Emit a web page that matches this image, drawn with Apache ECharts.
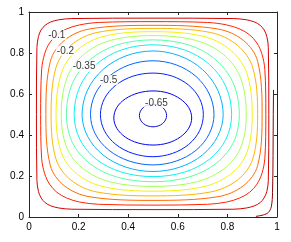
<!DOCTYPE html>
<html><head><meta charset="utf-8">
<script src="https://cdn.jsdelivr.net/npm/echarts@6/dist/echarts.min.js"></script>
<style>html,body{margin:0;padding:0;background:#fff}#c{width:291px;height:242px}</style>
</head><body><div id="c"></div>
<script>
// contour levels (outermost to innermost) plus the zero line near the right wall
const levels = [-0.05,-0.1,-0.15,-0.2,-0.25,-0.3,-0.35,-0.4,-0.45,-0.5,-0.55,-0.6,-0.65];
const c005 = [[0.967,0.5],[0.965,0.827],[0.959,0.880],[0.948,0.913],[0.932,0.935],[0.910,0.951],[0.877,0.962],[0.825,0.968],[0.5,0.97],[0.173,0.968],[0.120,0.962],[0.087,0.951],[0.065,0.935],[0.049,0.913],[0.038,0.880],[0.032,0.827],[0.030,0.5],[0.032,0.178],[0.038,0.125],[0.049,0.093],[0.065,0.070],[0.087,0.055],[0.120,0.044],[0.173,0.038],[0.5,0.036],[0.825,0.038],[0.877,0.044],[0.910,0.055],[0.932,0.070],[0.948,0.093],[0.959,0.125],[0.965,0.178]];
const c010 = [[0.955,0.5],[0.951,0.719],[0.939,0.796],[0.919,0.849],[0.890,0.888],[0.850,0.917],[0.797,0.937],[0.720,0.949],[0.5,0.953],[0.281,0.949],[0.204,0.937],[0.151,0.917],[0.112,0.888],[0.083,0.849],[0.063,0.796],[0.051,0.719],[0.047,0.5],[0.051,0.286],[0.063,0.212],[0.083,0.160],[0.112,0.121],[0.151,0.093],[0.204,0.073],[0.281,0.062],[0.5,0.058],[0.720,0.062],[0.797,0.073],[0.850,0.093],[0.890,0.121],[0.919,0.160],[0.939,0.212],[0.951,0.286]];
const c015 = [[0.94,0.5],[0.922,0.759],[0.865,0.861],[0.762,0.917],[0.5,0.935],[0.243,0.917],[0.142,0.861],[0.086,0.759],[0.068,0.5],[0.086,0.251],[0.142,0.153],[0.243,0.099],[0.5,0.081],[0.762,0.099],[0.865,0.153],[0.922,0.251]];
const c020 = [[0.922,0.5],[0.902,0.730],[0.840,0.838],[0.732,0.900],[0.5,0.92],[0.274,0.900],[0.169,0.838],[0.109,0.730],[0.089,0.5],[0.109,0.282],[0.169,0.180],[0.274,0.122],[0.5,0.103],[0.732,0.122],[0.840,0.180],[0.902,0.282]];
const c025 = [[0.9,0.5],[0.878,0.703],[0.812,0.815],[0.701,0.882],[0.5,0.904],[0.303,0.882],[0.195,0.815],[0.131,0.703],[0.109,0.5],[0.131,0.312],[0.195,0.208],[0.303,0.147],[0.5,0.126],[0.701,0.147],[0.812,0.208],[0.878,0.312]];
const c030 = [[0.876,0.5],[0.853,0.679],[0.785,0.792],[0.674,0.861],[0.5,0.885],[0.328,0.861],[0.220,0.792],[0.153,0.679],[0.130,0.5],[0.153,0.337],[0.220,0.234],[0.328,0.171],[0.5,0.149],[0.674,0.171],[0.785,0.234],[0.853,0.337]];
const c035 = [[0.848,0.5],[0.824,0.652],[0.754,0.766],[0.645,0.839],[0.5,0.864],[0.354,0.839],[0.245,0.766],[0.175,0.652],[0.151,0.5],[0.175,0.363],[0.245,0.261],[0.354,0.195],[0.5,0.172],[0.645,0.195],[0.754,0.261],[0.824,0.363]];
const c040 = [[0.817,0.5],[0.794,0.636],[0.728,0.744],[0.627,0.815],[0.5,0.84],[0.373,0.815],[0.271,0.744],[0.205,0.636],[0.182,0.5],[0.205,0.379],[0.271,0.282],[0.373,0.219],[0.5,0.197],[0.627,0.219],[0.728,0.282],[0.794,0.379]];
const c045 = [[0.783,0.5],[0.761,0.619],[0.700,0.719],[0.608,0.786],[0.5,0.81],[0.391,0.786],[0.298,0.719],[0.236,0.619],[0.214,0.5],[0.236,0.394],[0.298,0.303],[0.391,0.243],[0.5,0.222],[0.608,0.243],[0.700,0.303],[0.761,0.394]];
const c050 = [[0.746,0.5],[0.727,0.600],[0.674,0.685],[0.594,0.742],[0.5,0.762],[0.404,0.742],[0.322,0.685],[0.267,0.600],[0.248,0.5],[0.267,0.406],[0.322,0.326],[0.404,0.273],[0.5,0.254],[0.594,0.273],[0.674,0.326],[0.727,0.406]];
const c055 = [[0.703,0.5],[0.688,0.577],[0.644,0.643],[0.578,0.687],[0.5,0.702],[0.419,0.687],[0.350,0.643],[0.304,0.577],[0.288,0.5],[0.304,0.421],[0.350,0.354],[0.419,0.310],[0.5,0.294],[0.578,0.310],[0.644,0.354],[0.688,0.421]];
const c060 = [[0.656,0.483],[0.644,0.534],[0.610,0.576],[0.560,0.605],[0.5,0.615],[0.440,0.605],[0.388,0.576],[0.354,0.534],[0.342,0.483],[0.354,0.433],[0.388,0.390],[0.440,0.361],[0.5,0.351],[0.560,0.361],[0.610,0.390],[0.644,0.433]];
const c065 = [[0.555,0.495],[0.539,0.534],[0.5,0.55],[0.461,0.534],[0.445,0.495],[0.461,0.456],[0.5,0.44],[0.539,0.456]];
const c000 = [[0.915,0.003],[0.945,0.010],[0.965,0.022],[0.977,0.05],[0.982,0.12],[0.984,0.3],[0.985,0.5],[0.986,0.62]];
// inline contour labels
const labelX = [0.112, 0.147, 0.222, 0.321, 0.514];
const labelY = [0.888, 0.81, 0.733, 0.668, 0.556];
const labelText = ['-0.1','-0.2','-0.35','-0.5','-0.65'];

const contours = [c005,c010,c015,c020,c025,c030,c035,c040,c045,c050,c055,c060,c065];
const colors = ['#d40000','#ff2400','#ff6a00','#ffb400','#f2f20c','#a6ff59','#59ffa6','#10f0f0','#00b4ff','#0066ff','#0022ff','#0000ee','#1010c8'];
const zeroColor = '#8a0000';

// smooth curve through the given pixel points (rendering helper)
function curveSegments(pts, closed){
  const n = pts.length, segs = [];
  const at = i => closed ? pts[(i+n)%n] : pts[Math.max(0, Math.min(n-1, i))];
  const tan = i => {
    const a = at(i-1), b = at(i+1);
    const dx = b[0]-a[0], dy = b[1]-a[1], l = Math.hypot(dx,dy) || 1;
    return [dx/l, dy/l];
  };
  const last = closed ? n : n-1;
  for (let i=0;i<last;i++){
    const p1 = at(i), p2 = at(i+1);
    const d = Math.hypot(p2[0]-p1[0], p2[1]-p1[1]) / 3;
    const t1 = tan(i), t2 = tan(i+1);
    segs.push({x1:p1[0], y1:p1[1], x2:p2[0], y2:p2[1],
      cpx1:p1[0]+t1[0]*d, cpy1:p1[1]+t1[1]*d, cpx2:p2[0]-t2[0]*d, cpy2:p2[1]-t2[1]*d});
  }
  return segs;
}
function curveGroup(pts, closed, color){
  return {type:'group', children: curveSegments(pts, closed).map(s => ({
    type:'bezierCurve', shape:s, style:{stroke:color, fill:null, lineWidth:1}
  }))};
}

const chart = echarts.init(document.getElementById('c'), null, {renderer:'canvas'});
const font = 'Liberation Sans, Arial, Helvetica, sans-serif';
const axisCommon = {
  type:'value', min:0, max:1, interval:0.2,
  axisLine:{show:true, onZero:false, lineStyle:{color:'#262626', width:1}},
  axisTick:{show:true, inside:true, length:3, lineStyle:{color:'#262626'}},
  splitLine:{show:false}
};
const fmt = v => (v===0?'0':(v===1?'1':String(v)));
chart.setOption({
  animation:false,
  grid:{left:29, right:14, top:12, bottom:25},
  xAxis:[
    Object.assign({}, axisCommon, {position:'bottom', axisLabel:{show:true, fontSize:10, color:'#000', fontFamily:font, margin:5, formatter:fmt}}),
    Object.assign({}, axisCommon, {position:'top', axisLabel:{show:false}})
  ],
  yAxis:[
    Object.assign({}, axisCommon, {position:'left', axisLabel:{show:true, fontSize:10, color:'#000', fontFamily:font, margin:5, formatter:fmt}}),
    Object.assign({}, axisCommon, {position:'right', axisLabel:{show:false}})
  ],
  series:[
    {
      type:'custom', xAxisIndex:0, yAxisIndex:0, silent:true,
      data: contours.map((c,i)=>[c[0][0], c[0][1], i]),
      encode:{x:0, y:1},
      renderItem:function(params, api){
        const i = params.dataIndex;
        return curveGroup(contours[i].map(p => api.coord(p)), true, colors[i]);
      }
    },
    {
      type:'custom', xAxisIndex:0, yAxisIndex:0, silent:true,
      data:[[c000[0][0], c000[0][1]]],
      encode:{x:0, y:1},
      renderItem:function(params, api){
        return curveGroup(c000.map(p => api.coord(p)), false, zeroColor);
      }
    },
    {
      type:'scatter', xAxisIndex:0, yAxisIndex:0, symbolSize:0, silent:true, z:10,
      data: labelX.map((x,i)=>[x, labelY[i], labelText[i]]),
      label:{show:true, position:'inside', formatter:p=>p.data[2], fontSize:10, color:'#000', fontFamily:font, backgroundColor:'#fff', padding:[0,1]}
    }
  ]
});
</script></body></html>
